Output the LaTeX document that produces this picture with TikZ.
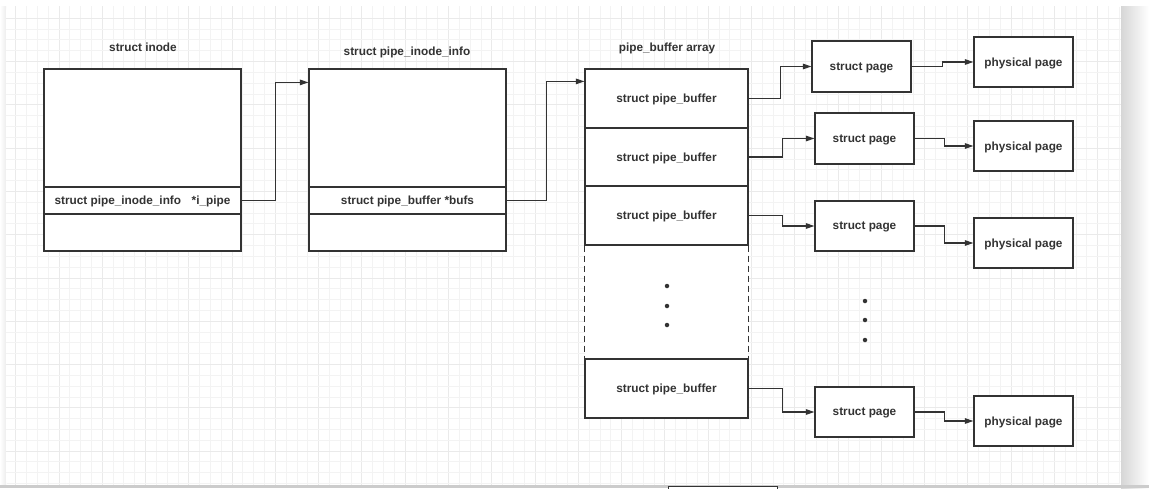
\documentclass[tikz,border=0pt]{standalone}
\usepackage{fontspec}
\setmainfont{Liberation Sans}
\usetikzlibrary{arrows.meta,calc}
\definecolor{ink}{HTML}{333333}
\definecolor{gridminor}{HTML}{F3F3F3}
\definecolor{gridmajor}{HTML}{EAEAEA}
\begin{document}
\begin{tikzpicture}[x=1pt,y=-1pt,
  lbl/.style={font=\bfseries\fontsize{11.8}{13}\selectfont,text=ink},
  box/.style={lbl,draw=ink,line width=1.2pt,fill=white,inner sep=0pt,text depth=0.5pt},
  title/.style={lbl,inner sep=0pt},
  link/.style={draw=ink,line width=1.2pt,-{Triangle[length=8.5pt,width=5.5pt]}},
  dot/.style={circle,fill=ink,inner sep=0pt,minimum size=4.5pt}]
\useasboundingbox (0,0) rectangle (1149,488);
% page background and panel shadow
\fill[white] (0,0) rectangle (1149,488);
\shade[left color=black!16, right color=white] (1121,6) rectangle (1149,488);
\shade[left color=white, right color=black!7] (0,6) rectangle (6,485);
\fill[black!20] (0,485) rectangle (1149,488);
% panel with grid
\begin{scope}
  \path[clip,rounded corners=4pt] (6,6) rectangle (1121,485);
  \fill[white] (6,6) rectangle (1121,485);
  \foreach \i in {0,...,103} {
    \pgfmathtruncatemacro{\m}{mod(\i,4)}
    \ifnum\m=0 \def\gc{gridmajor}\else\def\gc{gridminor}\fi
    \draw[\gc,line width=0.9pt] ({15.7+10.82*\i},6) -- ({15.7+10.82*\i},485);
  }
  \foreach \j in {0,...,44} {
    \pgfmathtruncatemacro{\m}{mod(\j,4)}
    \ifnum\m=0 \def\gc{gridmajor}\else\def\gc{gridminor}\fi
    \draw[\gc,line width=0.9pt] (6,{18.3+10.82*\j}) -- (1121,{18.3+10.82*\j});
  }
\end{scope}
\node[draw=ink,fill=white,line width=1pt,inner sep=0pt,minimum width=109pt,minimum height=10pt,anchor=north west] (tip) at (668,486) {};

% struct inode
\node[title] (tinode) at (143,47) {struct inode};
\node[box,minimum width=197pt,minimum height=182pt] (inode) at (142.5,160) {};
\node[box,minimum width=197pt,minimum height=27pt] (ifield) at (142.5,200.5) {struct pipe\_inode\_info\hspace{0.9em}*i\_pipe};

% struct pipe_inode_info
\node[title] (tpinfo) at (407,52) {struct pipe\_inode\_info};
\node[box,minimum width=197pt,minimum height=182pt] (pinfo) at (407.5,160) {};
\node[box,minimum width=197pt,minimum height=27pt] (pfield) at (407.5,200.5) {struct pipe\_buffer *bufs};

% pipe_buffer array
\node[title] (tarr) at (667,48) {pipe\_buffer array};
\fill[white] (585,245) rectangle (748,359);
\node[box,minimum width=163pt,minimum height=59pt] (c1) at (666.5,98.5) {struct pipe\_buffer};
\node[box,minimum width=163pt,minimum height=58pt] (c2) at (666.5,157) {struct pipe\_buffer};
\node[box,minimum width=163pt,minimum height=59pt] (c3) at (666.5,215.5) {struct pipe\_buffer};
\node[box,minimum width=163pt,minimum height=59pt] (c4) at (666.5,388.5) {struct pipe\_buffer};
\draw[ink,line width=1.2pt,dash pattern=on 6pt off 4pt] (c3.south west) -- (c4.north west);
\draw[ink,line width=1.2pt,dash pattern=on 6pt off 4pt] (c3.south east) -- (c4.north east);
\node[dot] (d1) at (667,286) {};
\node[dot] (d2) at (667,306) {};
\node[dot] (d3) at (667,325) {};

% struct pages
\node[box,minimum width=99pt,minimum height=51pt] (sp1) at (861.5,66.5) {struct page};
\node[box,minimum width=99pt,minimum height=51pt] (sp2) at (864.5,138.5) {struct page};
\node[box,minimum width=99pt,minimum height=50pt] (sp3) at (864.5,226) {struct page};
\node[box,minimum width=99pt,minimum height=50pt] (sp4) at (864.5,412) {struct page};
\node[dot] (e1) at (865,301) {};
\node[dot] (e2) at (865,320) {};
\node[dot] (e3) at (865,340) {};

% physical pages
\node[box,minimum width=99pt,minimum height=50pt] (pp1) at (1023.5,62) {physical page};
\node[box,minimum width=99pt,minimum height=50pt] (pp2) at (1023.5,146) {physical page};
\node[box,minimum width=99pt,minimum height=50pt] (pp3) at (1023.5,243) {physical page};
\node[box,minimum width=99pt,minimum height=50pt] (pp4) at (1023.5,421) {physical page};

% connectors
\draw[link] (ifield.east) -- ++(34,0) |- ($(pinfo.north west)+(0,14)$);
\draw[link] (pfield.east) -- ++(40,0) |- ($(c1.north west)+(0,13)$);
\draw[link] (c1.east) -- ++(32,0) |- (sp1.west);
\draw[link] (c2.east) -- ++(34,0) |- (sp2.west);
\draw[link] (c3.east) -- ++(34,0) |- (sp3.west);
\draw[link] (c4.east) -- ++(34,0) |- (sp4.west);
\draw[link] (sp1.east) -- ++(31,0) |- (pp1.west);
\draw[link] (sp2.east) -- ++(30,0) |- (pp2.west);
\draw[link] (sp3.east) -- ++(30,0) |- (pp3.west);
\draw[link] (sp4.east) -- ++(30,0) |- (pp4.west);
\end{tikzpicture}
\end{document}
